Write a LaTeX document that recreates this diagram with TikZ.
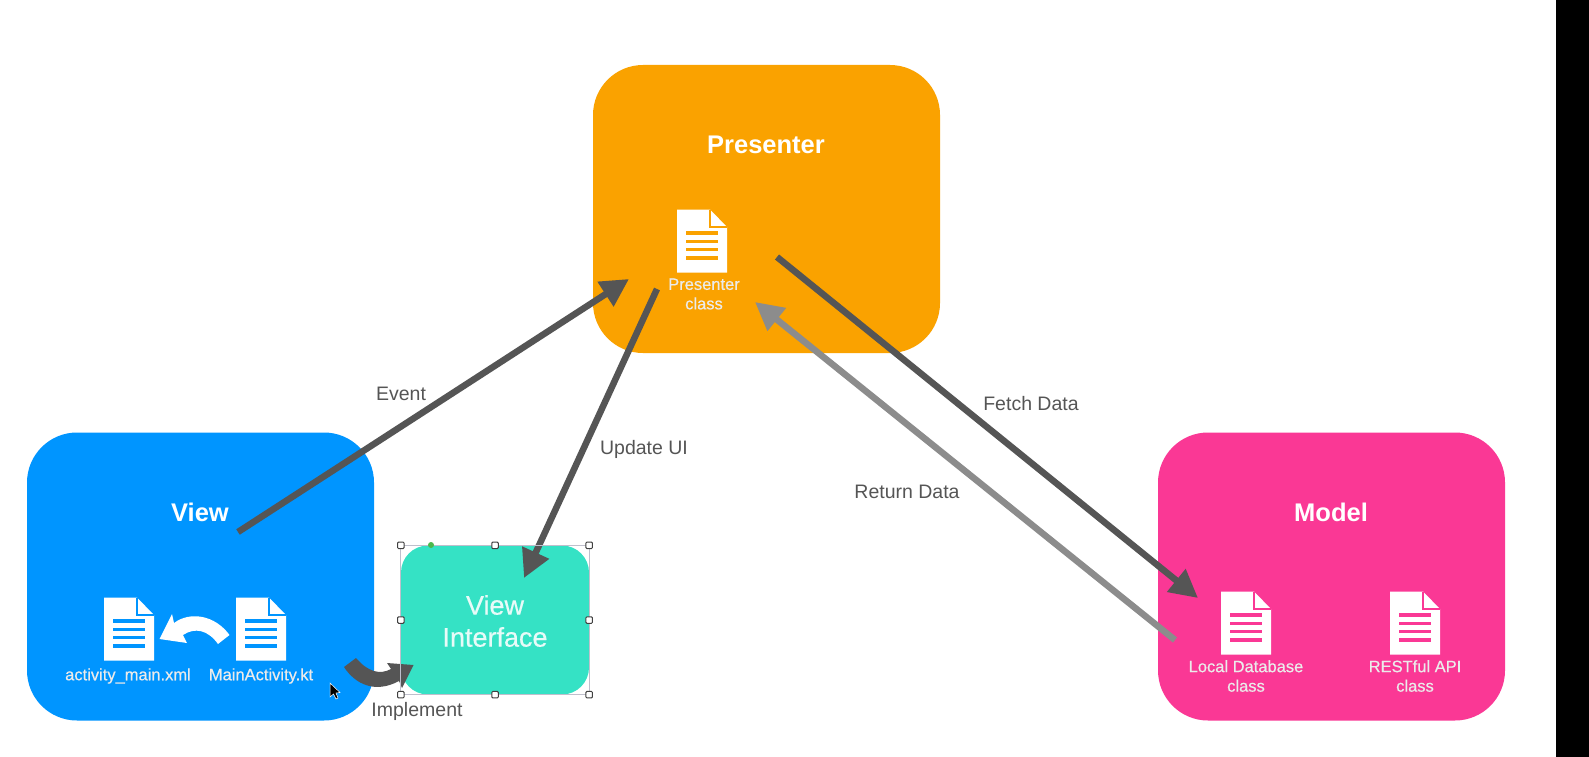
\documentclass[tikz,border=0pt]{standalone}
\usepackage{fontspec}
\setmainfont{Liberation Sans}
\newfontfamily\medfont[FakeBold=0.5]{Liberation Sans}
\usetikzlibrary{arrows.meta}
\definecolor{viewblue}{HTML}{0095FF}
\definecolor{presorange}{HTML}{FAA200}
\definecolor{modelpink}{HTML}{FA3895}
\definecolor{ifteal}{HTML}{35E2C5}
\definecolor{arrowdark}{HTML}{555555}
\definecolor{arrowgray}{HTML}{8C8C8C}

\tikzset{
  bigbox/.style={rectangle,rounded corners=50pt,minimum width=347pt,minimum height=288pt,inner sep=0pt},
  title/.style={text=white,font=\bfseries\fontsize{25.5}{30}\selectfont},
  small/.style={text=white!92!black,align=center,font=\medfont\fontsize{16.5}{19.5}\selectfont},
  lbl/.style={text=arrowdark,font=\fontsize{19.5}{23}\selectfont},
  handle/.style={rectangle,rounded corners=1pt,draw=black!75,fill=white,line width=1pt,minimum size=6.5pt,inner sep=0pt}
}
\newcommand{\docicon}[2]{
  \begin{scope}[shift={#1}]
    \fill[white] (-25,-31.5) -- (8,-31.5) -- (25,-14) -- (25,31.5) -- (-25,31.5) -- cycle;
    \draw[#2,line width=1.4pt] (8,-31.5) -- (8,-14) -- (25,-14);
    \foreach \y in {-8,0.5,8.5,17}
      \draw[#2,line width=3.4pt] (-16,\y) -- (16,\y);
  \end{scope}
}

\begin{document}
\begin{tikzpicture}[x=1pt,y=-1pt]
  \useasboundingbox (0,0) rectangle (1589,757);
  \fill[white] (0,0) rectangle (1589,757);
  \fill[black] (1556,0) rectangle (1589,757);

  \node[bigbox,fill=presorange] (presenter) at (766.5,209) {};
  \node[bigbox,fill=viewblue] (view) at (200.5,576.5) {};
  \node[bigbox,fill=modelpink] (model) at (1331.5,576.5) {};
  \node[rectangle,rounded corners=27pt,fill=ifteal,minimum width=188pt,minimum height=149pt,inner sep=0pt] (viewif) at (495,620) {};

  \node[title] (prestitle) at (766,145) {Presenter};
  \node[title] (viewtitle) at (200,512) {View};
  \node[title] (modeltitle) at (1331,512) {Model};
  \node[text=white!88!ifteal,align=center,font=\medfont\fontsize{27}{32}\selectfont] (iftitle) at (495,621) {View\\Interface};

  \docicon{(129,629)}{viewblue}
  \docicon{(261,629)}{viewblue}
  \docicon{(702,241)}{presorange}
  \docicon{(1246,623)}{modelpink}
  \docicon{(1415,623)}{modelpink}

  \node[small] (xml) at (128,676) {activity\_main.xml};
  \node[small] (kt) at (261,676) {MainActivity.kt};
  \node[small] (presclass) at (704,294) {Presenter\\class};
  \node[small] (local) at (1246,676) {Local Database\\class};
  \node[small] (rest) at (1415,676) {RESTful API\\class};

  \coordinate (ev1) at (238,532);
  \coordinate (ev2) at (629,279);
  \coordinate (up1) at (657,289);
  \coordinate (up2) at (524,578);
  \coordinate (fe1) at (777,257);
  \coordinate (fe2) at (1198,598);
  \coordinate (re1) at (1175,640);
  \coordinate (re2) at (755,302);
  \coordinate (im1) at (344,667);
  \coordinate (im2) at (413.5,665);
  \coordinate (wh1) at (229.5,635);
  \coordinate (wh2) at (159.5,639);

  \foreach \from/\to/\col in {ev1/ev2/arrowdark,up1/up2/arrowdark,fe1/fe2/arrowdark,re1/re2/arrowgray}
    \draw[\col,line width=6.5pt,-{Triangle[length=28pt,width=28pt]}] (\from) -- (\to);

  \fill[arrowdark] (im1) .. controls (355,684) and (375,694) .. (399,681) -- (402,688) -- (im2) -- (387,663) -- (391,669) .. controls (380,675) and (368,672) .. (356,658) -- cycle;
  \fill[white] (wh2) -- (172,614) -- (174,623) .. controls (190,611) and (215,615) .. (wh1) -- (218,644) .. controls (208,630) and (195,627) .. (183,635) -- (187,643) -- cycle;

  \node[lbl] (event) at (401,394) {Event};
  \node[lbl] (updateui) at (644,449) {Update UI};
  \node[lbl] (fetch) at (1031,404) {Fetch Data};
  \node[lbl] (return) at (907,492) {Return Data};
  \node[lbl] (implement) at (417,711) {Implement};

  \draw[blue!20!black!25,line width=0.8pt] (viewif.south west) rectangle (viewif.north east);
  \foreach \a [count=\i] in {north west,north,north east,east,south east,south,south west,west}
    \node[handle] (h\i) at (viewif.\a) {};
  \node[circle,fill=green!60!black!70,minimum size=6pt,inner sep=0pt] (rot) at (431,545) {};

  \fill[black,draw=white,line width=0.5pt] (330,683) -- (330,697) -- (333.5,694) -- (336,699) -- (338,698) -- (336,693) -- (340,692.5) -- cycle;
\end{tikzpicture}
\end{document}
